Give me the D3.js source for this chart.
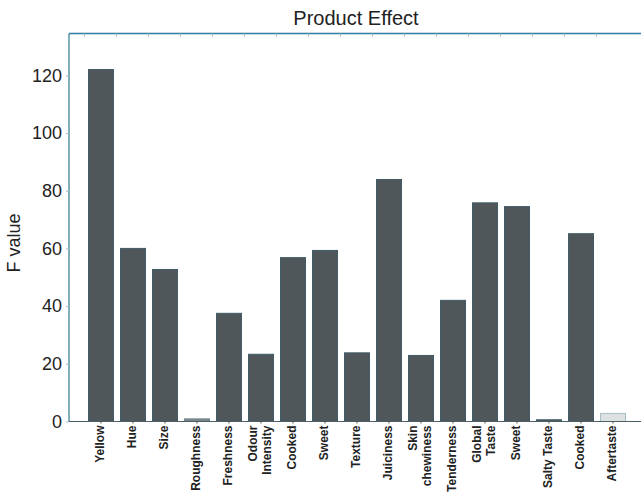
<!DOCTYPE html>
<html>
<head>
<meta charset="utf-8">
<script src="https://cdn.jsdelivr.net/npm/d3@7"></script>
<style>
  html, body { margin: 0; padding: 0; background: #fff; }
  svg { display: block; font-family: "Liberation Sans", Arial, sans-serif; }
</style>
</head>
<body>
<svg id="chart" width="641" height="493"></svg>
<script>
// Attribute names (multi-line labels split on "\n")
const attributes = [
  "Yellow", "Hue", "Size", "Roughness", "Freshness", "Odour\nIntensity",
  "Cooked", "Sweet", "Texture", "Juiciness", "Skin\nchewiness", "Tenderness",
  "Global\nTaste", "Sweet", "Salty Taste", "Cooked", "Aftertaste"
];
// F statistic of the product effect for each attribute
const fValues = [
  122, 60, 52.7, 0.9, 37.5, 23.3,
  56.8, 59.3, 23.8, 83.9, 22.9, 42,
  75.8, 74.5, 0.6, 65.1, 2.8
];
// Significance level of the effect: 0 = significant, 1 = weak, 2 = not significant
const significance = [
  0, 0, 0, 1, 0, 0,
  0, 0, 0, 0, 0, 0,
  0, 0, 0, 0, 2
];
const yTicks = [0, 20, 40, 60, 80, 100, 120];

const svg = d3.select("#chart");
const plotLeft = 69, plotTop = 33.5, plotBottom = 421.5;

const x = d3.scaleBand()
  .domain(d3.range(attributes.length))
  .range([88.5, 625.5])
  .paddingInner(0.22)
  .paddingOuter(0);

const y = d3.scaleLinear().domain([0, 134.5]).range([plotBottom, plotTop]);

const fills = ["#50575a", "#7b858a", "#dde1e1"];
const strokes = ["#3f5c66", "#6d8590", "#a7bcc5"];

// Bars
svg.append("g").selectAll("rect")
  .data(fValues)
  .join("rect")
  .attr("x", (d, i) => x(i))
  .attr("y", d => y(d))
  .attr("width", x.bandwidth())
  .attr("height", d => y(0) - y(d))
  .attr("fill", (d, i) => fills[significance[i]])
  .attr("stroke", (d, i) => strokes[significance[i]])
  .attr("stroke-width", 1);

// Left axis
const yAxis = svg.append("g")
  .attr("transform", `translate(${plotLeft},0)`)
  .call(d3.axisLeft(y).tickValues(yTicks).tickSize(3).tickPadding(4));
yAxis.select(".domain").attr("stroke", "#3f8296").attr("stroke-width", 1.3)
  .attr("d", `M0,${plotTop}V${plotBottom}`);
yAxis.selectAll(".tick line").attr("stroke", "#9fc0cc");
yAxis.selectAll(".tick text").attr("font-size", 18).attr("fill", "#222");

// Top frame line with ticks at each category
svg.append("line")
  .attr("x1", plotLeft).attr("x2", 641).attr("y1", plotTop).attr("y2", plotTop)
  .attr("stroke", "#2f7ea4").attr("stroke-width", 1.5);
svg.append("g").selectAll("line")
  .data(d3.range(attributes.length))
  .join("line")
  .attr("x1", i => x(i) - 4).attr("x2", i => x(i) - 4)
  .attr("y1", plotTop).attr("y2", plotTop + 3)
  .attr("stroke", "#8fb8c8");

// Bottom axis
const xAxis = svg.append("g")
  .attr("transform", `translate(0,${plotBottom})`)
  .call(d3.axisBottom(x).tickSize(2).tickFormat(""));
xAxis.select(".domain").attr("stroke", "#4d5f66").attr("stroke-width", 1.2)
  .attr("d", `M${plotLeft},0H641`);
xAxis.selectAll(".tick line").attr("stroke", "#555");

// Rotated category labels
const labels = svg.append("g").selectAll("text")
  .data(attributes)
  .join("text")
  .attr("transform", (d, i) => `translate(${x(i) + x.bandwidth() / 2 - 1},${plotBottom + 4}) rotate(-90)`)
  .attr("text-anchor", "end")
  .attr("font-size", 12)
  .attr("font-weight", "bold")
  .attr("fill", "#222");
labels.each(function(d) {
  const lines = d.split("\n");
  const sel = d3.select(this);
  const offset = (lines.length - 1) * -0.55;
  lines.forEach((ln, k) => {
    sel.append("tspan")
      .attr("x", 0)
      .attr("dy", k === 0 ? `${offset + 0.33}em` : "1.15em")
      .text(ln);
  });
});

// Axis title
svg.append("text")
  .attr("transform", `translate(20,243) rotate(-90)`)
  .attr("text-anchor", "middle")
  .attr("font-size", 18)
  .attr("fill", "#222")
  .text("F value");

// Chart title
svg.append("text")
  .attr("x", 356).attr("y", 25)
  .attr("text-anchor", "middle")
  .attr("font-size", 20)
  .attr("fill", "#222")
  .text("Product Effect");
</script>
</body>
</html>
